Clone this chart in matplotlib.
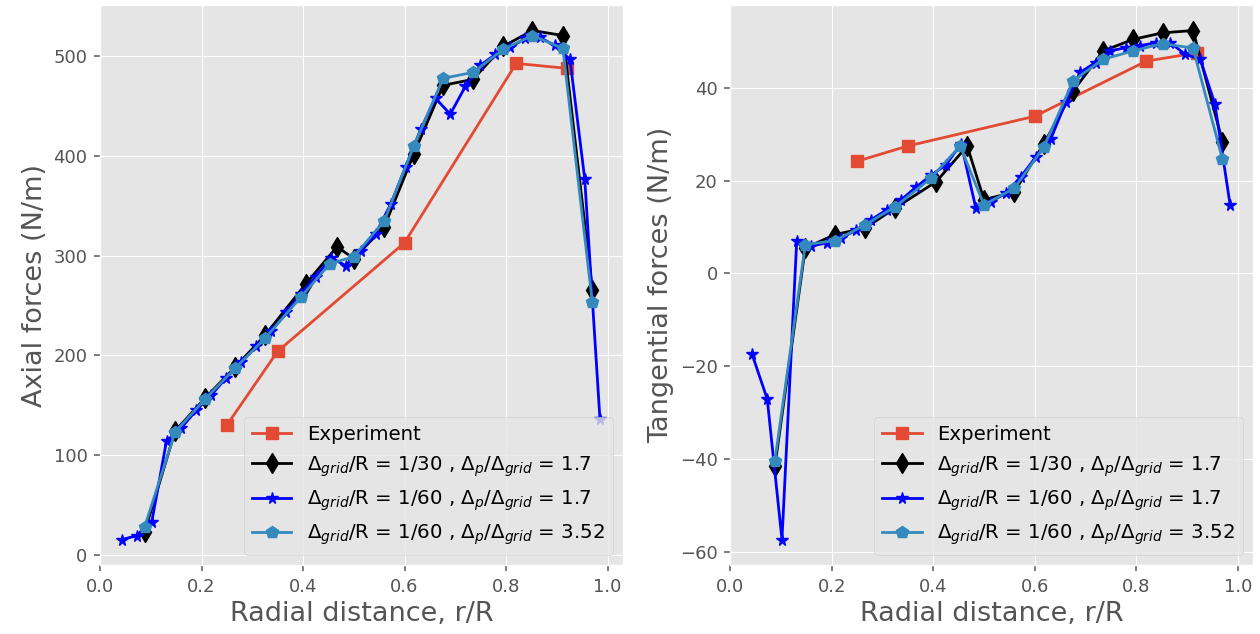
import matplotlib
matplotlib.use("Agg")
import matplotlib.pyplot as plt

# ---------------- data ----------------
exp_x = [0.25, 0.35, 0.60, 0.82, 0.92]
axial_exp = [130, 204, 313, 493, 488]
tang_exp = [24.2, 27.5, 33.9, 45.8, 47.6]

x30 = [0.088, 0.148, 0.207, 0.266, 0.325, 0.406, 0.467, 0.500, 0.560, 0.618,
       0.676, 0.735, 0.794, 0.852, 0.912, 0.970]
axial_30 = [23, 124, 157, 188, 220, 272, 309, 297, 329, 402,
            471, 477, 510, 526, 521, 266]
tang_30 = [-41.6, 5.5, 8.4, 9.8, 14.1, 19.8, 27.5, 15.9, 17.6, 28.0,
           39.4, 48.0, 50.5, 51.9, 52.4, 28.4]

x60 = [0.043, 0.073, 0.102, 0.131, 0.160, 0.190, 0.219, 0.248, 0.278, 0.308,
       0.337, 0.367, 0.396, 0.425, 0.455, 0.484, 0.514, 0.543, 0.573, 0.602,
       0.632, 0.661, 0.690, 0.720, 0.749, 0.779, 0.808, 0.838, 0.867, 0.896,
       0.926, 0.955, 0.985]
axial_60 = [15, 19, 33, 114, 127, 145, 160, 177, 193, 209,
            224, 243, 262, 279, 298, 290, 305, 322, 352, 389,
            427, 458, 442, 470, 491, 502, 509, 518, 519, 511,
            497, 377, 136]
tang_60 = [-17.4, -27.1, -57.4, 6.9, 5.9, 6.6, 7.6, 9.4, 11.6, 13.7,
           15.9, 18.7, 21.2, 23.4, 28.0, 14.1, 15.5, 17.3, 20.9, 25.1,
           29.1, 36.9, 43.4, 45.5, 48.0, 48.7, 49.1, 49.8, 49.8, 47.3,
           46.2, 36.6, 14.8]

x60b = [0.088, 0.148, 0.207, 0.266, 0.325, 0.395, 0.453, 0.500, 0.560, 0.618,
        0.676, 0.735, 0.794, 0.852, 0.912, 0.970]
axial_60b = [28, 123, 156, 187, 217, 258, 292, 299, 335, 410,
             478, 484, 507, 521, 508, 253]
tang_60b = [-40.4, 6.2, 7.1, 10.5, 14.4, 20.5, 27.5, 14.8, 18.4, 27.3,
            41.6, 46.2, 48.0, 49.6, 48.6, 24.6]

labels = ["Experiment",
          r"$\Delta_{grid}$/R = 1/30 , $\Delta_p/\Delta_{grid}$ = 1.7",
          r"$\Delta_{grid}$/R = 1/60 , $\Delta_p/\Delta_{grid}$ = 1.7",
          r"$\Delta_{grid}$/R = 1/60 , $\Delta_p/\Delta_{grid}$ = 3.52"]
xlabel = "Radial distance, r/R"
ylabels = ["Axial forces (N/m)", "Tangential forces (N/m)"]

# ---------------- plot ----------------
plt.style.use("ggplot")
plt.rcParams["font.family"] = ["DejaVu Sans"]

fig, axes = plt.subplots(1, 2, figsize=(12.6, 6.34), dpi=100)
fig.subplots_adjust(left=0.0794, right=0.9944, bottom=0.1088, top=0.992, wspace=0.2055)

lw = 2.0
ms = 8.5
series_sets = [
    (axial_exp, axial_30, axial_60, axial_60b),
    (tang_exp, tang_30, tang_60, tang_60b),
]
for ax, (ye, y30, y60, y60b), ylab in zip(axes, series_sets, ylabels):
    ax.plot(exp_x, ye, marker="s", color="#E24A33", lw=lw, ms=ms, label=labels[0])
    ax.plot(x30, y30, marker="d", color="black", lw=lw, ms=ms + 1.5, label=labels[1])
    ax.plot(x60, y60, marker="*", color="blue", lw=lw, ms=ms, label=labels[2])
    ax.plot(x60b, y60b, marker="p", color="#348ABD", lw=lw, ms=ms + 0.5, label=labels[3])
    ax.set_xlim(0, 1.03)
    ax.set_xlabel(xlabel, fontsize=19.5, color="#555555")
    ax.set_ylabel(ylab, fontsize=19.5, color="#555555")
    ax.tick_params(labelsize=13, length=4.5, width=1.1, pad=4.5, colors="#555555")
    ax.legend(loc="lower right", fontsize=14.2)

fig.savefig("out.png", dpi=100)
